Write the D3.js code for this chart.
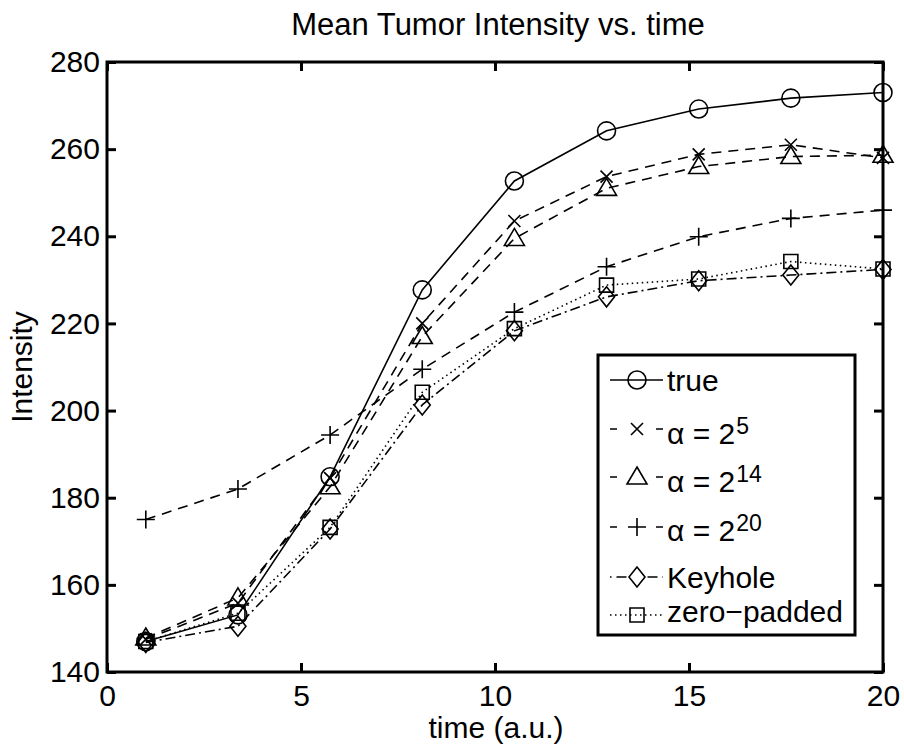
<!DOCTYPE html>
<html>
<head>
<meta charset="utf-8">
<script src="https://cdn.jsdelivr.net/npm/d3@7/dist/d3.min.js"></script>
<style>
  html, body { margin: 0; padding: 0; background: #fff; }
  text { font-family: "Liberation Sans", Arial, Helvetica, sans-serif; fill: #000; }
</style>
</head>
<body>
<svg id="chart" width="904" height="747"></svg>
<script>
// ---- data ----
const times = [1, 3.375, 5.75, 8.125, 10.5, 12.875, 15.25, 17.625, 20];
const trueVals       = [147.0, 153.1, 184.8, 227.7, 252.7, 264.2, 269.2, 271.7, 273.0];
const alpha5Vals     = [147.5, 155.8, 184.5, 220.0, 243.5, 253.7, 258.8, 261.0, 258.0];
const alpha14Vals    = [147.8, 157.0, 182.5, 217.0, 239.5, 251.0, 256.0, 258.3, 258.6];
const alpha20Vals    = [175.0, 182.0, 194.4, 209.5, 222.6, 233.0, 239.9, 244.1, 246.0];
const keyholeVals    = [146.8, 150.5, 172.8, 201.3, 218.3, 226.1, 229.8, 231.1, 232.4];
const zeroPaddedVals = [147.0, 153.5, 173.2, 204.2, 218.8, 228.8, 230.2, 234.2, 232.5];

const seriesLabels = ["true", "\u03b1 = 2", "\u03b1 = 2", "\u03b1 = 2", "Keyhole", "zero\u2212padded"];
const seriesSupers = ["", "5", "14", "20", "", ""];
const xTicks = [0, 5, 10, 15, 20];
const yTicks = [140, 160, 180, 200, 220, 240, 260, 280];
const titleText = "Mean Tumor Intensity vs. time";
const xLabel = "time (a.u.)";
const yLabel = "Intensity";

(function () {
// ---- styles ----
const seriesStyles = [
  { marker: "circle",   dash: null },
  { marker: "x",        dash: "10,7" },
  { marker: "triangle", dash: "10,7" },
  { marker: "plus",     dash: "10,7" },
  { marker: "diamond",  dash: "10,4,2,4" },
  { marker: "square",   dash: "1.5,3.5" }
];
const seriesValues = [trueVals, alpha5Vals, alpha14Vals, alpha20Vals, keyholeVals, zeroPaddedVals];

const svg = d3.select("#chart");
const pL = 107, pR = 883, pT = 62, pB = 672;
const x = d3.scaleLinear().domain([0, 20]).range([pL, pR]);
const y = d3.scaleLinear().domain([140, 280]).range([pB, pT]);
const FS = 30;

function markerPath(type) {
  switch (type) {
    case "circle": return "M9,0A9,9 0 1,1 -9,0A9,9 0 1,1 9,0Z";
    case "x": return "M-6,-6L6,6M-6,6L6,-6";
    case "plus": return "M-9,0L9,0M0,-9L0,9";
    case "triangle": return "M0,-10L10,7L-10,7Z";
    case "diamond": return "M0,-10L8,0L0,10L-8,0Z";
    case "square": return "M-7,-7L7,-7L7,7L-7,7Z";
  }
}

// title
svg.append("text").attr("x", 498).attr("y", 35).attr("text-anchor", "middle")
  .attr("font-size", 31).text(titleText);

// axes
const gx = svg.append("g").attr("transform", `translate(0,${pB})`)
  .call(d3.axisBottom(x).tickValues(xTicks).tickSize(-9).tickPadding(13).tickFormat(d3.format("d")));
const gxt = svg.append("g").attr("transform", `translate(0,${pT})`)
  .call(d3.axisTop(x).tickValues(xTicks).tickSize(-9).tickFormat(""));
const gy = svg.append("g").attr("transform", `translate(${pL},0)`)
  .call(d3.axisLeft(y).tickValues(yTicks).tickSize(-9).tickPadding(7).tickFormat(d3.format("d")));
const gyr = svg.append("g").attr("transform", `translate(${pR},0)`)
  .call(d3.axisRight(y).tickValues(yTicks).tickSize(-9).tickFormat(""));
[gx, gxt, gy, gyr].forEach(g => {
  g.select(".domain").remove();
  g.selectAll(".tick line").attr("stroke", "#000").attr("stroke-width", 3);
  g.selectAll(".tick text").attr("font-size", FS).attr("font-family", "Liberation Sans, Arial, sans-serif").attr("fill", "#000");
});
svg.append("rect").attr("x", pL).attr("y", pT).attr("width", pR - pL).attr("height", pB - pT)
  .attr("fill", "none").attr("stroke", "#000").attr("stroke-width", 3);

// axis labels
svg.append("text").attr("x", 496).attr("y", 738).attr("text-anchor", "middle")
  .attr("font-size", FS).text(xLabel);
svg.append("text").attr("transform", `translate(32,${(pT + pB) / 2}) rotate(-90)`)
  .attr("text-anchor", "middle").attr("font-size", FS).text(yLabel);

// series
const line = d3.line().x(d => x(d[0])).y(d => y(d[1]));
seriesValues.forEach((vals, i) => {
  const st = seriesStyles[i];
  const pts = times.map((t, j) => [t, vals[j]]);
  svg.append("path").datum(pts).attr("d", line).attr("fill", "none")
    .attr("stroke", "#000").attr("stroke-width", 1.6)
    .attr("stroke-dasharray", st.dash);
  svg.append("g").selectAll("path").data(pts).join("path")
    .attr("transform", d => `translate(${x(d[0])},${y(d[1])})`)
    .attr("d", markerPath(st.marker)).attr("fill", "none")
    .attr("stroke", "#000").attr("stroke-width", 1.6);
});

// legend
const lg = svg.append("g");
lg.append("rect").attr("x", 598).attr("y", 355).attr("width", 257).attr("height", 280)
  .attr("fill", "#fff").attr("stroke", "#000").attr("stroke-width", 3);
const rowY = [380, 429, 477, 527, 577, 615];
const baseOff = [10.5, 15, 15, 14, 11, 7];
seriesLabels.forEach((lab, i) => {
  const st = seriesStyles[i];
  const ry = rowY[i];
  let dash = null;
  if (st.dash) {
    if (st.marker === "diamond") dash = "1.5,5,10,21,10,5,1.5";
    else if (st.marker === "square") dash = st.dash;
    else dash = "7,39,7";
  }
  lg.append("path").attr("d", `M610,${ry}L663,${ry}`).attr("stroke", "#000").attr("stroke-width", 1.6)
    .attr("stroke-dasharray", dash).attr("fill", "none");
  lg.append("path").attr("transform", `translate(637,${ry})`).attr("d", markerPath(st.marker))
    .attr("fill", "none").attr("stroke", "#000").attr("stroke-width", 1.6);
  const t = lg.append("text").attr("x", 667).attr("y", ry + baseOff[i]).attr("font-size", FS);
  t.append("tspan").text(lab);
  if (seriesSupers[i]) {
    t.append("tspan").attr("font-size", 23).attr("dy", -10).attr("dx", 1).text(seriesSupers[i]);
  }
});
})();
</script>
</body>
</html>
